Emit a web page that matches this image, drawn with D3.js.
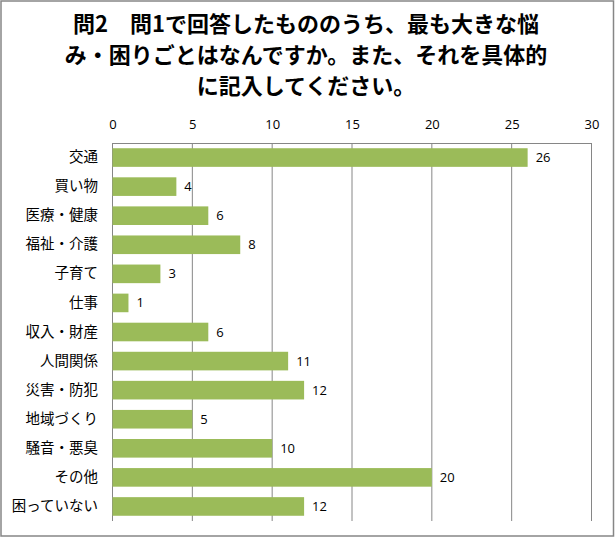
<!DOCTYPE html>
<html><head><meta charset="utf-8">
<script src="https://cdn.jsdelivr.net/npm/d3@7"></script>
<style>body{margin:0;background:#fff}svg{display:block}</style>
</head><body>
<script>
const categories = ["交通","買い物","医療・健康","福祉・介護","子育て","仕事","収入・財産","人間関係","災害・防犯","地域づくり","騒音・悪臭","その他","困っていない"];
const values = [26,4,6,8,3,1,6,11,12,5,10,20,12];
const tickValues = [0,5,10,15,20,25,30];
const titleLines = ["問2　問1で回答したもののうち、最も大きな悩","み・困りごとはなんですか。また、それを具体的","に記入してください。"];

const W = 615, H = 537;
const svg = d3.select("body").append("svg").attr("width", W).attr("height", H);
svg.append("rect").attr("x",1).attr("y",1).attr("width",W-2.5).attr("height",H-2)
  .attr("fill","#fff").attr("stroke","#868686").attr("stroke-width",1.5);

const font = "'Noto Sans CJK JP', sans-serif";
const numFont = "'Open Sans', sans-serif";
svg.append("g").selectAll("text").data(titleLines).join("text")
  .attr("x", 306).attr("y", (d,i)=>32 + i*31)
  .attr("text-anchor","middle").attr("font-family",font).attr("font-weight","bold")
  .attr("font-size",22).attr("fill","#000").text(d=>d);

const x = d3.scaleLinear().domain([0,30]).range([112.5,591.5]);
const y = d3.scaleBand().domain(categories).range([143,521]).paddingInner(0.36).paddingOuter(0.18);

const grid = svg.append("g");
grid.selectAll("line.v").data(tickValues).join("line")
  .attr("x1",d=>x(d)).attr("x2",d=>x(d)).attr("y1",143).attr("y2",521)
  .attr("stroke","#868686").attr("stroke-width",1);
grid.append("line").attr("x1",x(0)).attr("x2",x(30)).attr("y1",143.5).attr("y2",143.5)
  .attr("stroke","#868686");

const xAxis = d3.axisTop(x).tickValues(tickValues).tickSize(0).tickPadding(0);
const gx = svg.append("g").attr("transform","translate(0,129)").call(xAxis);
gx.select(".domain").remove();
gx.selectAll("text").attr("font-family",numFont).attr("font-size",13).attr("fill","#000");

const yAxis = d3.axisLeft(y).tickSize(0).tickPadding(0);
const gy = svg.append("g").attr("transform","translate(98,0)").call(yAxis);
gy.select(".domain").remove();
gy.selectAll("text").attr("font-family",font).attr("font-size",14.5).attr("fill","#000");

const data = categories.map((c,i)=>({c, v: values[i]}));
svg.append("g").selectAll("rect").data(data).join("rect")
  .attr("x",x(0)).attr("y",d=>y(d.c)).attr("width",d=>x(d.v)-x(0)).attr("height",y.bandwidth())
  .attr("fill","#9BBB59");

svg.append("g").selectAll("text").data(data).join("text")
  .attr("x",d=>x(d.v)+8).attr("y",d=>y(d.c)+y.bandwidth()/2).attr("dy","0.35em")
  .attr("font-family",numFont).attr("font-size",13).attr("fill","#000")
  .text(d=>d.v);
</script>
</body></html>
